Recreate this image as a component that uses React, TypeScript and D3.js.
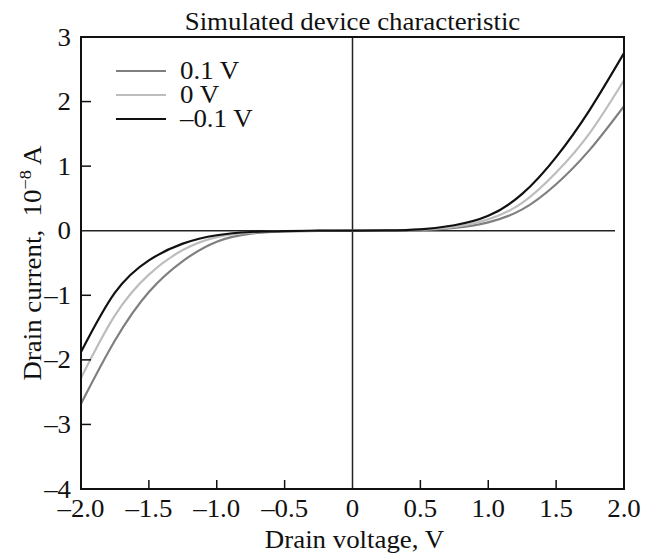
import React from "react";
import * as d3 from "d3";

const voltages = [-2.0, -1.75, -1.5, -1.25, -1.0, -0.75, -0.5, -0.25, 0, 0.25, 0.5, 0.75, 1.0, 1.25, 1.5, 1.75, 2.0];
const currentPos01 = [-2.68, -1.70, -0.95, -0.47, -0.17, -0.045, -0.01, -0.002, 0, 0.002, 0.012, 0.045, 0.13, 0.33, 0.72, 1.26, 1.93];
const currentZero = [-2.28, -1.31, -0.68, -0.30, -0.10, -0.03, -0.008, -0.001, 0, 0.003, 0.016, 0.06, 0.175, 0.43, 0.90, 1.52, 2.33];
const currentNeg01 = [-1.88, -0.96, -0.46, -0.20, -0.07, -0.02, -0.005, 0, 0, 0.005, 0.022, 0.085, 0.23, 0.57, 1.14, 1.88, 2.75];

const seriesNames = ["0.1 V", "0 V", "\u20130.1 V"];
const seriesColors = ["#7f7f7f", "#bdbdbd", "#111111"];
const xTicks = [-2.0, -1.5, -1.0, -0.5, 0, 0.5, 1.0, 1.5, 2.0];
const yTicks = [3, 2, 1, 0, -1, -2, -3, -4];

const W = 654;
const H = 553;
const L = 81, R = 624, T = 37, B = 489;
const FONT = "'Liberation Serif', 'Times New Roman', serif";
const SX = 1.075;

function fmtX(v: number) {
  if (v === 0) return "0";
  const s = Math.abs(v).toFixed(1);
  return v < 0 ? "\u2013" + s : s;
}
function fmtY(v: number) {
  return v < 0 ? "\u2013" + Math.abs(v) : String(v);
}

function Txt(props: { x: number; y: number; anchor?: string; size?: number; children: React.ReactNode }) {
  const { x, y, anchor = "start", size = 25, children } = props;
  return (
    <text
      transform={`translate(${x},${y}) scale(${SX},1)`}
      textAnchor={anchor}
      fontSize={size}
      fill="#111"
    >
      {children}
    </text>
  );
}

export default function App() {
  const x = d3.scaleLinear().domain([-2, 2]).range([L, R]);
  const y = d3.scaleLinear().domain([-4, 3]).range([B, T]);
  const line = d3
    .line<number>()
    .x((_, i) => x(voltages[i]))
    .y((d) => y(d))
    .curve(d3.curveNatural);
  const series = [currentPos01, currentZero, currentNeg01];
  return (
    <svg
      width={W}
      height={H}
      style={{ position: "absolute", left: 0, top: 0, background: "#fff" }}
      fontFamily={FONT}
    >
      <rect x={0} y={0} width={W} height={H} fill="#fff" />
      <defs>
        <clipPath id="plot">
          <rect x={L} y={T} width={R - L} height={B - T} />
        </clipPath>
      </defs>
      {/* title */}
      <Txt x={(L + R) / 2} y={30} anchor="middle">Simulated device characteristic</Txt>
      {/* zero lines */}
      <line x1={L} x2={615} y1={y(0)} y2={y(0)} stroke="#222" strokeWidth={1.5} />
      <line x1={x(0)} x2={x(0)} y1={T} y2={B} stroke="#222" strokeWidth={1.5} />
      {/* curves */}
      <g clipPath="url(#plot)">
        {series.map((s, i) => (
          <path key={i} d={line(s) || ""} fill="none" stroke={seriesColors[i]} strokeWidth={2.2} />
        ))}
      </g>
      {/* frame */}
      <rect x={L} y={T} width={R - L} height={B - T} fill="none" stroke="#111" strokeWidth={2} />
      {/* x ticks */}
      {xTicks.map((t) => (
        <g key={"x" + t}>
          {t !== 0 && t !== -2 && t !== 2 && (
            <line x1={x(t)} x2={x(t)} y1={B} y2={B - 9} stroke="#111" strokeWidth={1.5} />
          )}
          <Txt x={x(t)} y={517} anchor="middle">{fmtX(t)}</Txt>
        </g>
      ))}
      {/* y ticks */}
      {yTicks.map((t) => (
        <g key={"y" + t}>
          {t !== 0 && t !== 3 && t !== -4 && (
            <line x1={L} x2={L + 10} y1={y(t)} y2={y(t)} stroke="#111" strokeWidth={1.5} />
          )}
          <Txt x={71} y={y(t) + 8.5} anchor="end">{fmtY(t)}</Txt>
        </g>
      ))}
      {/* axis titles */}
      <Txt x={(L + R) / 2 + 2} y={548} anchor="middle">Drain voltage, V</Txt>
      <text
        transform={`translate(41, ${(T + B) / 2}) rotate(-90) scale(${SX},1)`}
        textAnchor="middle"
        fontSize={25}
        fill="#111"
        style={{ whiteSpace: "pre" }}
      >
        {"Drain current,  10"}
        <tspan dy={-10} fontSize={17}>{"\u22128"}</tspan>
        <tspan dy={10}>{" A"}</tspan>
      </text>
      {/* legend */}
      {seriesNames.map((n, i) => (
        <g key={n}>
          <line x1={116} x2={166} y1={71 + i * 24} y2={71 + i * 24} stroke={seriesColors[i]} strokeWidth={2.2} />
          <Txt x={180} y={79 + i * 24}>{n}</Txt>
        </g>
      ))}
    </svg>
  );
}
